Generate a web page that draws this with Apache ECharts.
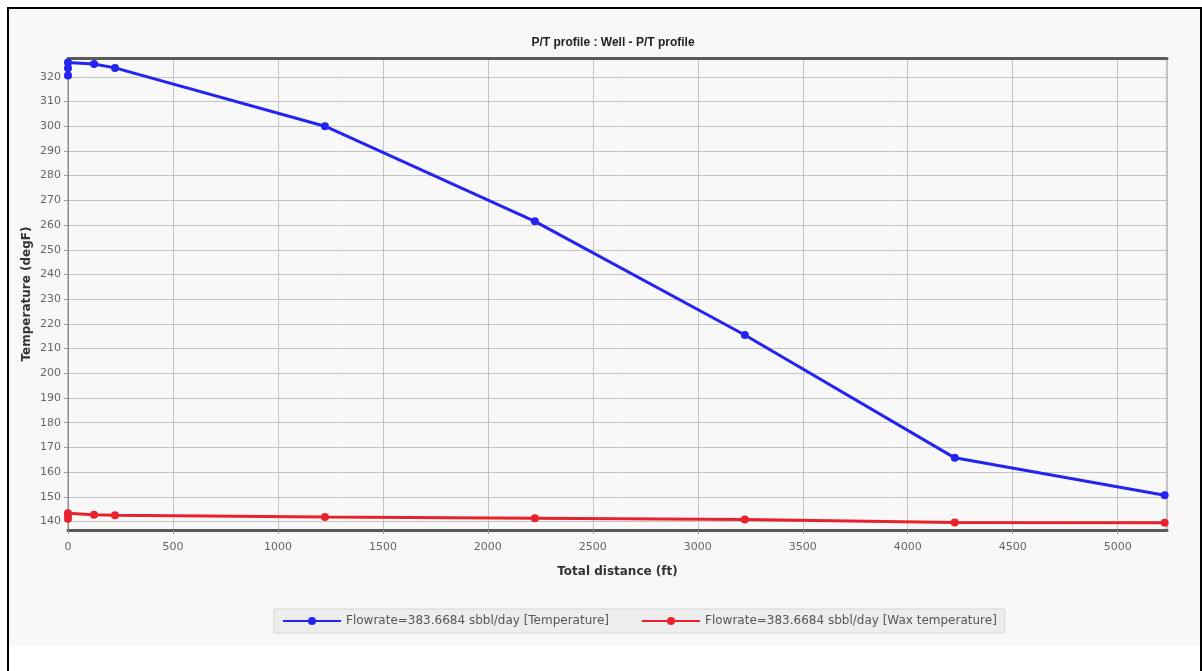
<!DOCTYPE html>
<html>
<head>
<meta charset="utf-8">
<script src="https://cdn.jsdelivr.net/npm/echarts@6/dist/echarts.min.js"></script>
<style>
  html, body { margin: 0; padding: 0; background: #fff; }
  #frame {
    position: absolute; left: 7px; top: 7px; width: 1191px; height: 700px;
    border: 2px solid #000;
    background: linear-gradient(#f8f8f8 0, #f8f8f8 637px, #fff 637px);
  }
  #chart { position: absolute; left: 0; top: 0; width: 1202px; height: 671px; }
</style>
</head>
<body>
<div id="frame"></div>
<div id="chart"></div>
<script>
// P/T profile: temperature and wax temperature along the well.
const FONT = "'DejaVu Sans', 'Liberation Sans', sans-serif";

const distanceFt = [0, 0, 0, 124, 224, 1224, 2224, 3224, 4224, 5224];
const temperatureF = [320.5, 323.5, 325.8, 325.2, 323.6, 300.0, 261.5, 215.5, 165.8, 150.7];
const waxTemperatureF = [141.2, 143.4, 142.9, 142.8, 142.6, 141.9, 141.4, 140.8, 139.6, 139.5];
const yTicks = [140, 150, 160, 170, 180, 190, 200, 210, 220, 230, 240, 250, 260, 270, 280, 290, 300, 310, 320];
const seriesNames = [
  'Flowrate=383.6684 sbbl/day [Temperature]',
  'Flowrate=383.6684 sbbl/day [Wax temperature]',
];

const pairs = (ys) => distanceFt.map((x, i) => [x, ys[i]]);

const chart = echarts.init(document.getElementById('chart'));

const gridLine = { show: true, lineStyle: { color: '#c4c4c4', width: 1 } };

chart.setOption({
  animation: false,
  textStyle: { fontFamily: FONT },
  title: {
    text: 'P/T profile : Well - P/T profile',
    left: 608, top: 32, textAlign: 'center',
    textStyle: { fontFamily: "'Liberation Sans', sans-serif", fontSize: 12, fontWeight: 'bold', color: '#222' },
  },
  grid: {
    left: 68, right: 35, top: 58, bottom: 141,
    show: true, backgroundColor: 'transparent', borderColor: '#8a8a8a', borderWidth: 1,
  },
  legend: {
    bottom: 38, left: 274,
    itemWidth: 58, itemHeight: 10, itemGap: 32,
    padding: [6, 8], backgroundColor: '#ededed', borderColor: '#d6d6d6', borderWidth: 1,
    textStyle: { fontSize: 12, color: '#555' },
    data: seriesNames,
  },
  xAxis: [{
    type: 'value', min: 0, max: 5235, interval: 500,
    name: 'Total distance (ft)', nameLocation: 'middle', nameGap: 36,
    nameTextStyle: { fontSize: 12, fontWeight: 'bold', color: '#333' },
    axisLine: { show: true, onZero: false, lineStyle: { color: '#5a5a5a', width: 3 } },
    axisTick: { show: true, length: 4, lineStyle: { color: '#999' } },
    axisLabel: { fontSize: 11, color: '#666', margin: 12, showMaxLabel: false, formatter: (v) => String(v) },
    splitLine: gridLine,
  }, {
    type: 'value', position: 'top', min: 0, max: 5235,
    axisLine: { show: true, lineStyle: { color: '#5a5a5a', width: 3 } },
    axisTick: { show: false }, axisLabel: { show: false }, splitLine: { show: false },
  }],
  yAxis: {
    type: 'value', min: 136.6, max: 327.6,
    name: 'Temperature (degF)', nameLocation: 'middle', nameGap: 35, nameMoveOverlap: false,
    nameTextStyle: { fontSize: 12, fontWeight: 'bold', color: '#333' },
    axisLine: { show: true, lineStyle: { color: '#8a8a8a', width: 1 } },
    axisTick: { show: true, length: 4, lineStyle: { color: '#999' }, customValues: yTicks },
    axisLabel: { fontSize: 11, color: '#666', margin: 7, customValues: yTicks },
    splitLine: gridLine,
  },
  series: [{
    name: seriesNames[0], type: 'line', data: pairs(temperatureF),
    symbol: 'circle', symbolSize: 8, showSymbol: true,
    lineStyle: { color: '#2424f0', width: 3 },
    itemStyle: { color: '#2424f0' },
    z: 3,
  }, {
    name: seriesNames[1], type: 'line', data: pairs(waxTemperatureF),
    symbol: 'circle', symbolSize: 8, showSymbol: true,
    lineStyle: { color: '#e8222c', width: 3 },
    itemStyle: { color: '#e8222c' },
    z: 3,
  }],
});
</script>
</body>
</html>
